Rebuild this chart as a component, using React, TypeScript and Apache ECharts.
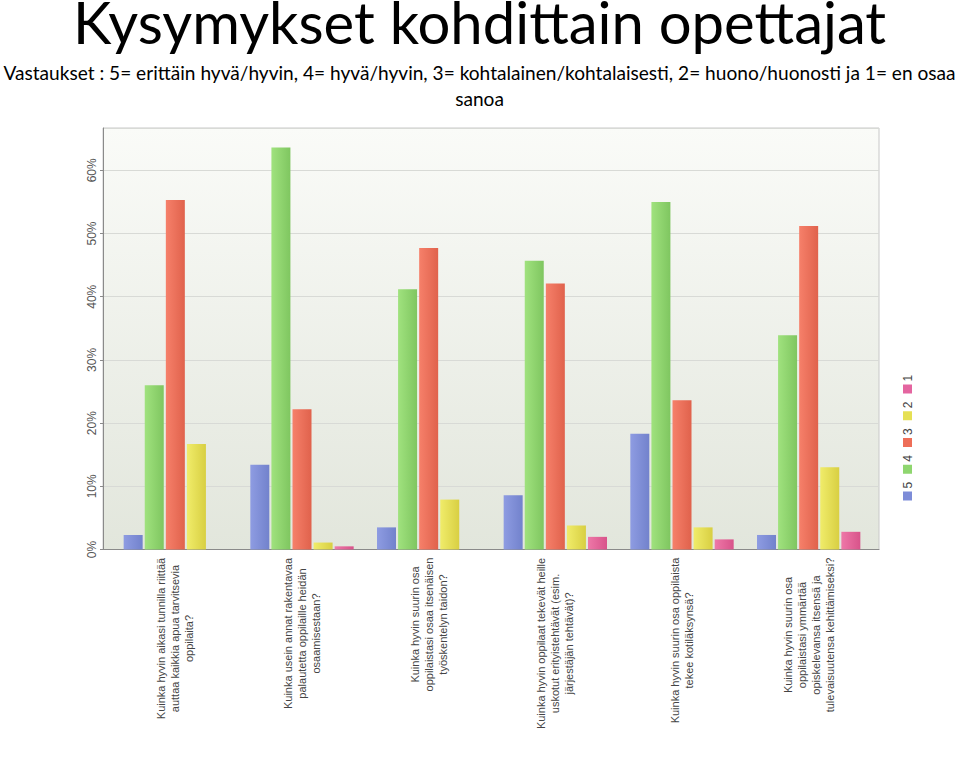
import React, { useEffect, useRef } from "react";
import * as echarts from "echarts";

const titleText = "Kysymykset kohdittain opettajat";
const subtitleText =
  "Vastaukset : 5= erittäin hyvä/hyvin, 4= hyvä/hyvin, 3= kohtalainen/kohtalaisesti, 2= huono/huonosti ja 1= en osaa\nsanoa";

const categories = [
  "Kuinka hyvin aikasi tunnilla riittää\nauttaa kaikkia apua tarvitsevia\noppilaita?",
  "Kuinka usein annat rakentavaa\npalautetta oppilaille heidän\nosaamisestaan?",
  "Kuinka hyvin suurin osa\noppilaistasi osaa itsenäisen\ntyöskentelyn taidon?",
  "Kuinka hyvin oppilaat tekevät heille\nuskotut erityistehtävät (esim.\njärjestäjän tehtävät)?",
  "Kuinka hyvin suurin osa oppilaista\ntekee kotiläksynsä?",
  "Kuinka hyvin suurin osa\noppilaistasi ymmärtää\nopiskelevansa itsensä ja\ntulevaisuutensa kehittämiseksi?",
];

const seriesNames = ["5", "4", "3", "2", "1"];
const values5 = [2.3, 13.4, 3.5, 8.6, 18.3, 2.3];
const values4 = [26.0, 63.6, 41.2, 45.7, 55.0, 33.9];
const values3 = [55.3, 22.2, 47.7, 42.1, 23.6, 51.2];
const values2 = [16.7, 1.1, 7.9, 3.8, 3.5, 13.0];
const values1 = [0, 0.5, 0, 2.0, 1.6, 2.8];
const seriesValues = [values5, values4, values3, values2, values1];

const yMax = 66.7;
const yInterval = 10;

const colorsLight = ["#8e9ce2", "#a0e27e", "#f6806a", "#f0ec6a", "#ee78a8"];
const colorsDark = ["#7282cc", "#7fc660", "#e0624c", "#d8cf42", "#d8538a"];
const legendColors = ["#7d8cd8", "#8fd66f", "#ee6e58", "#e6e054", "#e465a0"];

const labelFont = "'Liberation Sans', Arial, sans-serif";

function measure(text: string, size: number, family: string) {
  const c = document.createElement("canvas").getContext("2d");
  if (!c) return text.length * size * 0.5;
  c.font = `${size}px ${family}`;
  return c.measureText(text).width;
}

export default function App() {
  const ref = useRef<HTMLDivElement>(null);
  useEffect(() => {
    if (!ref.current) return;
    const chart = echarts.init(ref.current, undefined, { renderer: "svg" });

    const labelSize = 11;
    const rich: Record<string, any> = {};
    categories.forEach((c, i) => {
      const w = Math.max(...c.split("\n").map((l) => measure(l, labelSize, labelFont)));
      rich["c" + i] = {
        width: Math.ceil(w) + 2,
        align: "center",
        fontSize: labelSize,
        lineHeight: 14,
        color: "#444",
        fontFamily: labelFont,
      };
    });

    const pitch = 26.75;
    const legendChildren: any[] = [];
    seriesNames.forEach((n, i) => {
      legendChildren.push({
        type: "rect",
        shape: { x: i * pitch, y: -4.5, width: 9, height: 9 },
        style: { fill: legendColors[i] },
      });
      legendChildren.push({
        type: "text",
        x: i * pitch + 12,
        y: 0,
        style: {
          text: n,
          fill: "#444",
          font: `12px ${labelFont}`,
          verticalAlign: "middle",
        },
      });
    });

    const option: any = {
      animation: false,
      backgroundColor: "#ffffff",
      title: {
        text: titleText,
        subtext: subtitleText,
        left: "center",
        top: 0,
        itemGap: 1,
        padding: 0,
        textStyle: {
          fontFamily: "Lato",
          fontSize: 58,
          fontWeight: "normal",
          color: "#000",
          lineHeight: 43,
        },
        subtextStyle: {
          fontFamily: "Lato",
          fontSize: 19.1,
          color: "#000",
          lineHeight: 26,
        },
      },
      grid: [
        {
          left: 103,
          right: 80,
          top: 128,
          bottom: 212.5,
          show: true,
          borderColor: "#c8c8c8",
          borderWidth: 1,
          backgroundColor: new echarts.graphic.LinearGradient(0, 0, 0, 1, [
            { offset: 0, color: "#fafbf8" },
            { offset: 1, color: "#e2e6dc" },
          ]),
        },
        { left: 112, right: 87, top: 128, bottom: 212.5 },
      ],
      xAxis: [
        {
          gridIndex: 0,
          type: "value",
          min: 0,
          max: 1,
          axisLine: { show: true, lineStyle: { color: "#8a8a8a" } },
          axisTick: { show: false },
          axisLabel: { show: false },
          splitLine: { show: false },
        },
        {
          gridIndex: 1,
          type: "category",
          data: categories,
          axisLine: { show: false },
          axisTick: { show: false },
          axisLabel: {
            interval: 0,
            rotate: 90,
            margin: 7,
            formatter: (v: string, i: number) =>
              v
                .split("\n")
                .map((l) => `{c${i}|${l}}`)
                .join("\n"),
            rich,
          },
        },
      ],
      yAxis: [
        {
          gridIndex: 0,
          type: "value",
          min: 0,
          max: yMax,
          interval: yInterval,
          axisLine: { show: true, lineStyle: { color: "#8a8a8a" } },
          axisTick: { show: true, length: 3, lineStyle: { color: "#8a8a8a" } },
          splitLine: { show: true, lineStyle: { color: "#d8dad6", width: 1 } },
          axisLabel: {
            rotate: 90,
            margin: 5,
            color: "#555",
            fontSize: 12,
            fontFamily: labelFont,
            showMaxLabel: false,
            formatter: (v: number) => (v % 10 === 0 ? `${v}%` : ""),
          },
        },
        {
          gridIndex: 1,
          type: "value",
          min: 0,
          max: yMax,
          interval: yInterval,
          show: false,
          splitLine: { show: false },
        },
      ],
      graphic: [
        {
          type: "group",
          x: 907.5,
          y: 500.5,
          rotation: Math.PI / 2,
          children: legendChildren,
        },
      ],
      series: seriesNames.map((n, i) => ({
        name: n,
        type: "bar",
        xAxisIndex: 1,
        yAxisIndex: 1,
        data: seriesValues[i],
        barWidth: 19,
        barGap: "11%",
        itemStyle: {
          color: new echarts.graphic.LinearGradient(0, 0, 1, 0, [
            { offset: 0, color: colorsLight[i] },
            { offset: 1, color: colorsDark[i] },
          ]),
        },
      })),
    };
    chart.setOption(option);
    return () => chart.dispose();
  }, []);
  return (
    <div
      ref={ref}
      style={{ position: "fixed", left: 0, top: 0, width: 959, height: 762 }}
    />
  );
}
